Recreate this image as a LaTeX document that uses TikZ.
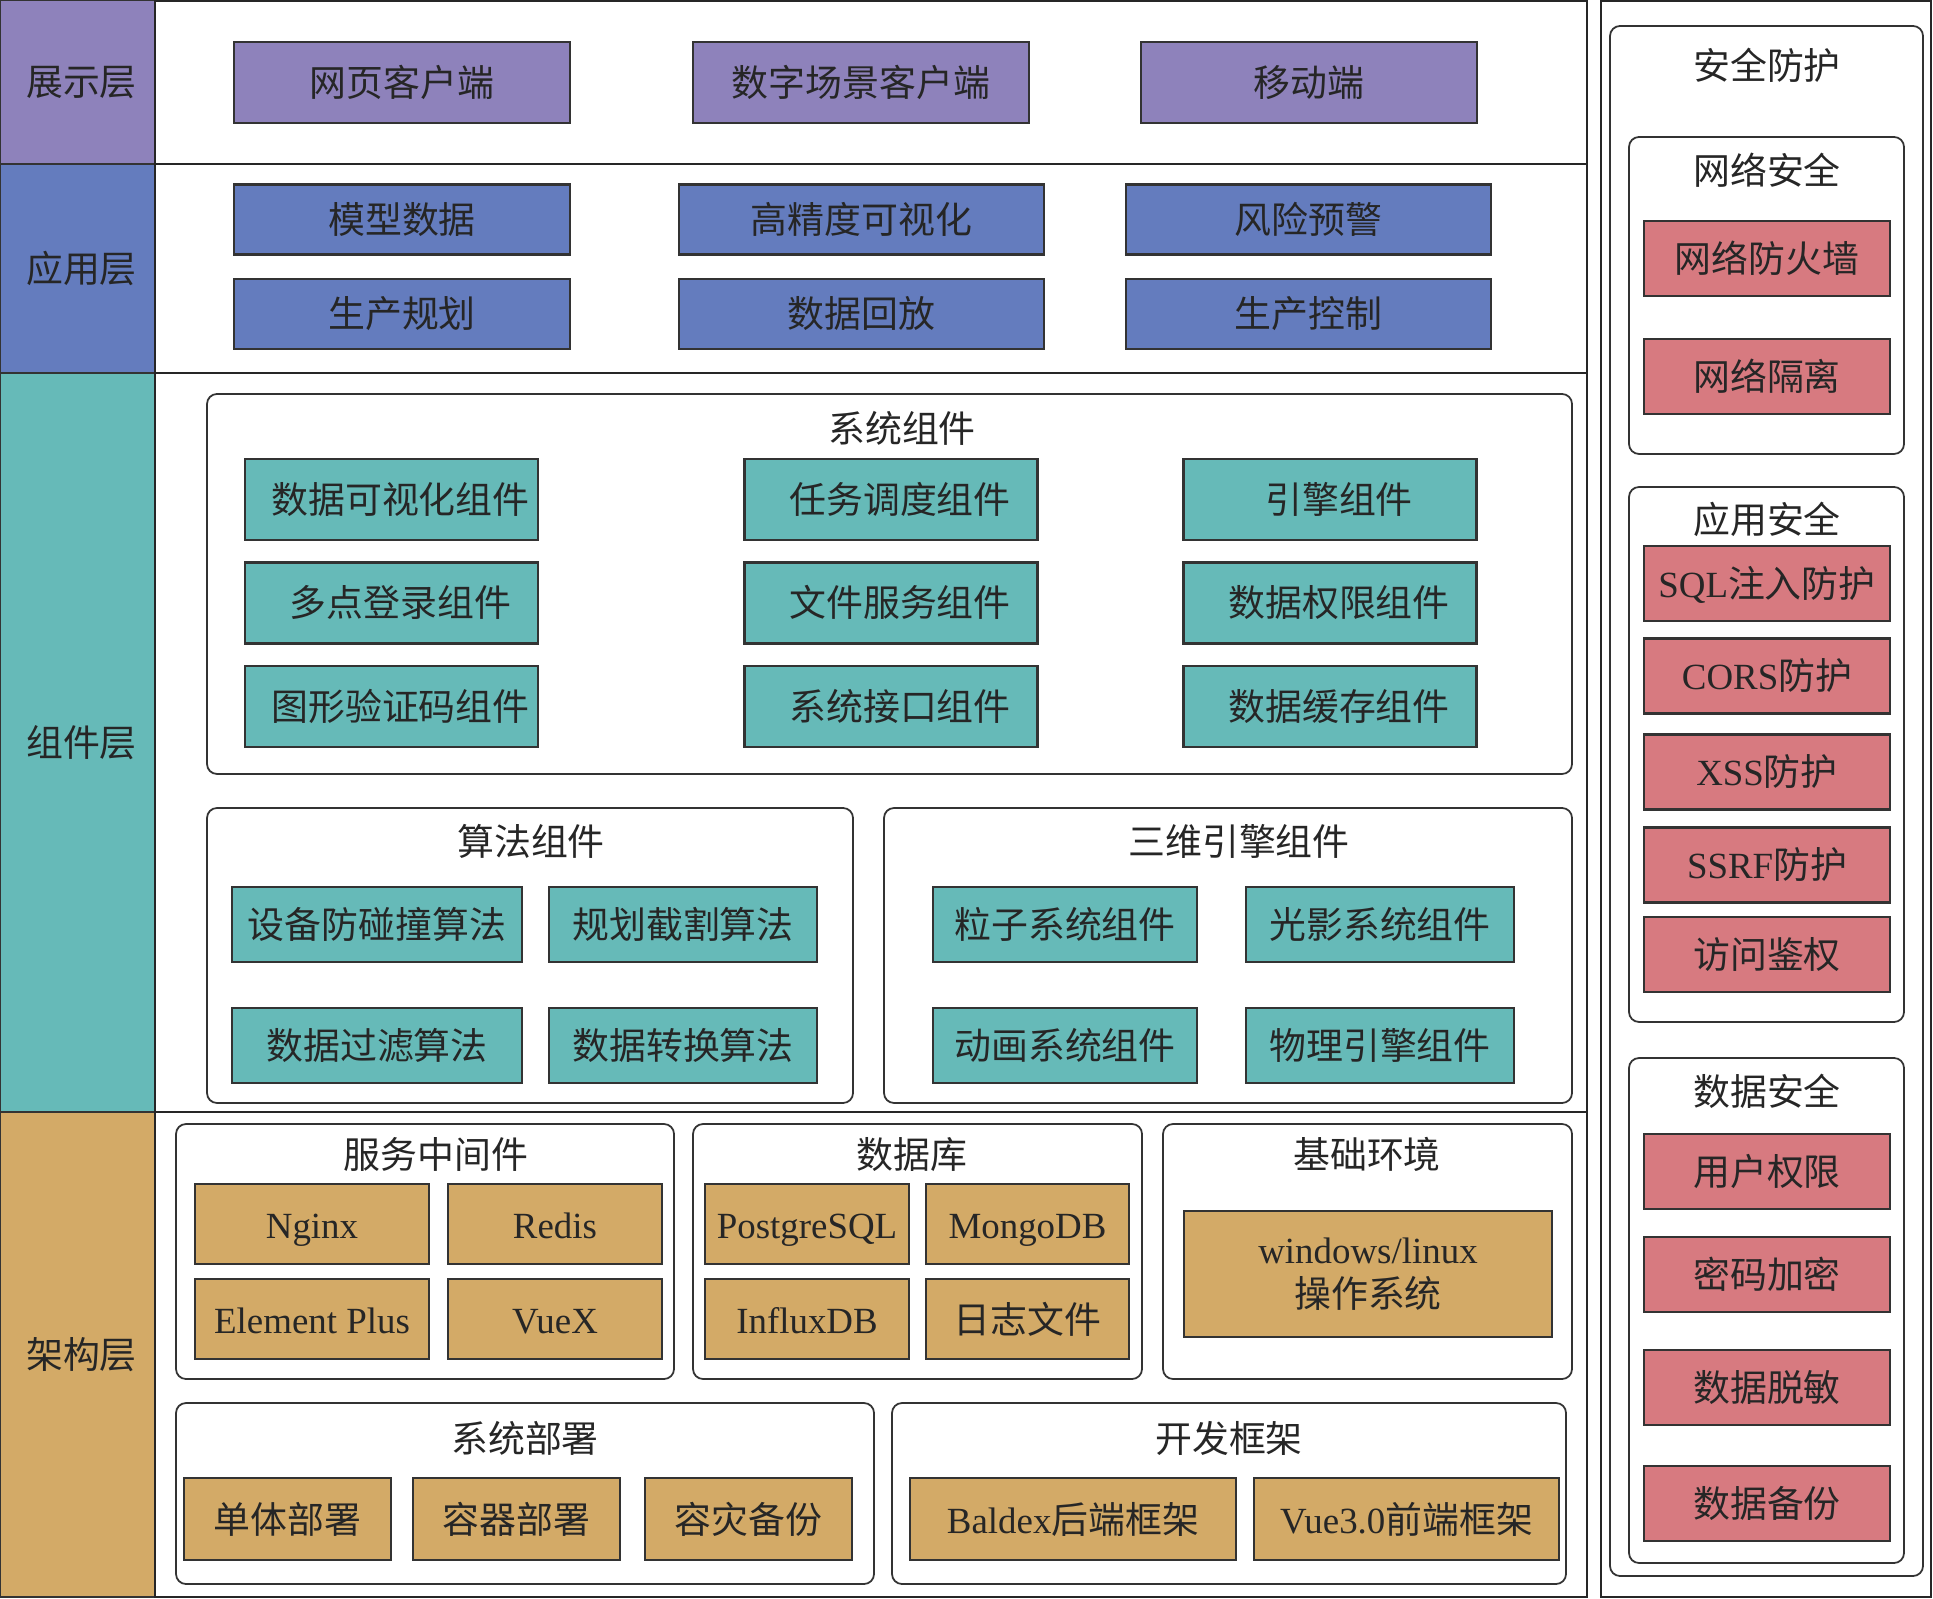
\documentclass[tikz,border=0pt]{standalone}
\usepackage{fontspec}
\setmainfont{Noto Sans CJK SC}
\newfontfamily\lat{Liberation Serif}
\definecolor{showc}{HTML}{8E82BB}
\definecolor{appc}{HTML}{647CBE}
\definecolor{compc}{HTML}{66BAB8}
\definecolor{archc}{HTML}{D3AA67}
\definecolor{secc}{HTML}{D77A80}
\begin{document}
\begin{tikzpicture}[x=0.1mm,y=-0.1mm,font=\fontsize{10.5pt}{12.6pt}\selectfont]
	\tikzstyle{every node}=[text=black!85]
	\tikzstyle{box}=[draw=black!80,line width=0.6pt,inner sep=0pt,text height=3.1mm,text depth=0.3mm]
	\tikzstyle{frame}=[draw=black!85,line width=0.6pt]
	\tikzstyle{group}=[draw=black!80,line width=0.5pt,rounded corners=1mm]
	\tikzstyle{title}=[inner sep=0pt]
	\tikzstyle{layer}=[box,minimum width=15.5mm,execute at begin node=\hspace*{0.8mm}]
	\tikzstyle{showbox}=[box,fill=showc,minimum width=33.6mm,minimum height=8.1mm]
	\tikzstyle{appbox}=[box,fill=appc,minimum height=7mm]
	\tikzstyle{sysbox}=[box,fill=compc,minimum width=29.3mm,minimum height=8.1mm,execute at begin node=\hspace*{1.8mm}]
	\tikzstyle{algbox}=[box,fill=compc,minimum height=7.5mm]
	\tikzstyle{archbox}=[box,fill=archc,minimum height=8mm]
	\tikzstyle{secbox}=[box,fill=secc,minimum width=24.6mm,minimum height=7.5mm]
	\useasboundingbox (0,0) rectangle (1933,1599);

	% layer column
	\node[layer,fill=showc,minimum height=16.4mm] (lshow) at (77.5,82) {展示层};
	\node[layer,fill=appc,minimum height=20.9mm] (lapp) at (77.5,268.5) {应用层};
	\node[layer,fill=compc,minimum height=73.9mm] (lcomp) at (77.5,742.5) {组件层};
	\node[layer,fill=archc,minimum height=48.5mm] (larch) at (77.5,1354.5) {架构层};

	\draw[frame] (155,1) rectangle (1587,1597);
	\draw[frame] (155,164) -- (1587,164);
	\draw[frame] (155,373) -- (1587,373);
	\draw[frame] (155,1112) -- (1587,1112);

	% presentation
	\node[showbox] (web) at (402,82.5) {网页客户端};
	\node[showbox] (scene) at (861,82.5) {数字场景客户端};
	\node[showbox] (mobile) at (1309,82.5) {移动端};

	% application
	\node[appbox,minimum width=33.6mm] (model) at (402,219.5) {模型数据};
	\node[appbox,minimum width=36.5mm] (hdvis) at (861.5,219.5) {高精度可视化};
	\node[appbox,minimum width=36.5mm] (risk) at (1308.5,219.5) {风险预警};
	\node[appbox,minimum width=33.6mm] (plan) at (402,314) {生产规划};
	\node[appbox,minimum width=36.5mm] (replay) at (861.5,314) {数据回放};
	\node[appbox,minimum width=36.5mm] (ctrl) at (1308.5,314) {生产控制};

	% components
	\draw[group] (207,394) rectangle (1572,774);
	\node[title] (tsys) at (902,428) {系统组件};
	\node[sysbox] (visc) at (391.5,499.5) {数据可视化组件};
	\node[sysbox] (ssoc) at (391.5,603) {多点登录组件};
	\node[sysbox] (capc) at (391.5,706.5) {图形验证码组件};
	\node[sysbox] (taskc) at (891,499.5) {任务调度组件};
	\node[sysbox] (filec) at (891,603) {文件服务组件};
	\node[sysbox] (apic) at (891,706.5) {系统接口组件};
	\node[sysbox] (engc) at (1330,499.5) {引擎组件};
	\node[sysbox] (authc) at (1330,603) {数据权限组件};
	\node[sysbox] (cachec) at (1330,706.5) {数据缓存组件};

	\draw[group] (207,808) rectangle (853,1103);
	\node[title] (talg) at (531,841) {算法组件};
	\node[algbox,minimum width=29mm] (collide) at (377,924.5) {设备防碰撞算法};
	\node[algbox,minimum width=26.8mm] (cut) at (683,924.5) {规划截割算法};
	\node[algbox,minimum width=29mm] (filter) at (377,1045.5) {数据过滤算法};
	\node[algbox,minimum width=26.8mm] (convert) at (683,1045.5) {数据转换算法};

	\draw[group] (884,808) rectangle (1572,1103);
	\node[title] (t3d) at (1239,841) {三维引擎组件};
	\node[algbox,minimum width=26.4mm] (particle) at (1065,924.5) {粒子系统组件};
	\node[algbox,minimum width=26.8mm] (light) at (1380,924.5) {光影系统组件};
	\node[algbox,minimum width=26.4mm] (anim) at (1065,1045.5) {动画系统组件};
	\node[algbox,minimum width=26.8mm] (phys) at (1380,1045.5) {物理引擎组件};

	% architecture
	\draw[group] (176,1124) rectangle (674,1379);
	\node[title] (tmid) at (436,1154) {服务中间件};
	\node[archbox,minimum width=23.4mm] (nginx) at (312,1224) {\lat Nginx};
	\node[archbox,minimum width=21.4mm] (redis) at (555,1224) {\lat Redis};
	\node[archbox,minimum width=23.4mm] (elem) at (312,1319) {\lat Element Plus};
	\node[archbox,minimum width=21.4mm] (vuex) at (555,1319) {\lat VueX};

	\draw[group] (693,1124) rectangle (1142,1379);
	\node[title] (tdb) at (912,1155) {数据库};
	\node[archbox,minimum width=20.4mm] (pg) at (807,1224) {\lat PostgreSQL};
	\node[archbox,minimum width=20.3mm] (mongo) at (1027.5,1224) {\lat MongoDB};
	\node[archbox,minimum width=20.4mm] (influx) at (807,1319) {\lat InfluxDB};
	\node[archbox,minimum width=20.3mm] (logf) at (1027.5,1319) {日志文件};

	\draw[group] (1163,1124) rectangle (1572,1379);
	\node[title] (tenv) at (1367,1154) {基础环境};
	\node[archbox,text height={},text depth={},minimum width=36.8mm,minimum height=12.6mm,align=center] (os) at (1368,1274) {{\lat windows/linux}\\操作系统};

	\draw[group] (176,1403) rectangle (874,1584);
	\node[title] (tdep) at (525,1438) {系统部署};
	\node[archbox,minimum width=20.7mm,minimum height=8.2mm] (single) at (287.5,1519) {单体部署};
	\node[archbox,minimum width=20.7mm,minimum height=8.2mm] (docker) at (516.5,1519) {容器部署};
	\node[archbox,minimum width=20.7mm,minimum height=8.2mm] (backup) at (748.5,1519) {容灾备份};

	\draw[group] (892,1403) rectangle (1566,1584);
	\node[title] (tfw) at (1229,1438) {开发框架};
	\node[archbox,minimum width=32.6mm,minimum height=8.2mm] (baldex) at (1073,1519) {{\lat Baldex}后端框架};
	\node[archbox,minimum width=30.5mm,minimum height=8.2mm] (vue) at (1406.5,1519) {{\lat Vue3.0}前端框架};

	% security
	\draw[frame] (1601,1) rectangle (1931,1597);
	\draw[group] (1610,26) rectangle (1923,1576);
	\node[title] (tsec) at (1767,65) {安全防护};

	\draw[group] (1629,137) rectangle (1904,454);
	\node[title] (tnet) at (1767,170) {网络安全};
	\node[secbox] (firewall) at (1767,258.5) {网络防火墙};
	\node[secbox] (isolate) at (1767,376.5) {网络隔离};

	\draw[group] (1629,487) rectangle (1904,1022);
	\node[title] (tappsec) at (1767,519) {应用安全};
	\node[secbox] (sql) at (1767,583.5) {{\lat SQL}注入防护};
	\node[secbox] (cors) at (1767,676) {{\lat CORS}防护};
	\node[secbox] (xss) at (1767,772) {{\lat XSS}防护};
	\node[secbox] (ssrf) at (1767,865) {{\lat SSRF}防护};
	\node[secbox] (access) at (1767,954.5) {访问鉴权};

	\draw[group] (1629,1058) rectangle (1904,1563);
	\node[title] (tdata) at (1767,1091) {数据安全};
	\node[secbox] (perm) at (1767,1171.5) {用户权限};
	\node[secbox] (pwd) at (1767,1274.5) {密码加密};
	\node[secbox] (mask) at (1767,1387.5) {数据脱敏};
	\node[secbox] (dbak) at (1767,1503.5) {数据备份};
\end{tikzpicture}
\end{document}
